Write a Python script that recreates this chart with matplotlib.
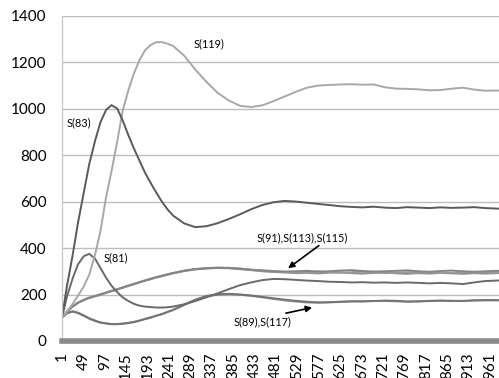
import numpy as np
import matplotlib
matplotlib.use("Agg")
import matplotlib.pyplot as plt

plt.rcParams['font.family'] = ['Lato', 'DejaVu Sans']

# sample positions (category index along the x axis), denser where curves bend
steps = [1, 12, 25, 37, 50, 62, 75, 87, 100, 112, 125, 137, 150, 162, 175, 187, 200,
         212, 225, 237, 250,
         275, 300, 325, 350, 375, 400, 425, 450, 475, 500, 525, 550, 575, 600, 625,
         650, 675, 700, 725, 750, 775, 800, 825, 850, 875, 900, 925, 950, 975, 1000]

s119 = [100, 125, 160, 195, 235, 285, 370, 470, 620, 730, 860, 990, 1080, 1150, 1210,
        1250, 1274, 1286, 1286, 1280, 1270,
        1228, 1168, 1115, 1068, 1035, 1012, 1007, 1014, 1032, 1052, 1072, 1090, 1099,
        1102, 1104, 1105, 1103, 1104, 1092, 1086, 1085, 1083, 1079, 1080, 1086, 1090,
        1082, 1077, 1078, 1076]
s83 = [100, 235, 370, 510, 640, 760, 860, 940, 995, 1015, 1000, 950, 885, 830, 775,
       725, 680, 640, 600, 568, 540,
       506, 490, 494, 507, 525, 545, 567, 585, 597, 603, 600, 595, 590, 585, 580, 577,
       575, 578, 574, 572, 576, 574, 572, 575, 573, 574, 576, 572, 570, 568]
s81 = [100, 190, 270, 330, 365, 375, 355, 315, 272, 238, 210, 188, 172, 160, 152, 148,
       146, 144, 144, 145, 148,
       158, 172, 188, 205, 223, 240, 252, 262, 267, 266, 263, 260, 258, 255, 254, 252,
       253, 251, 252, 250, 252, 250, 248, 250, 248, 245, 252, 258, 260, 262]
s91 = [100, 125, 148, 164, 176, 185, 193, 200, 208, 215, 222, 230, 238, 245, 253, 260,
       267, 274, 280, 286, 292,
       302, 309, 313, 315, 314, 311, 307, 304, 301, 299, 300, 302, 298, 300, 303, 305,
       301, 299, 300, 302, 304, 300, 298, 301, 303, 300, 298, 300, 302, 301]
s113 = [100, 127, 150, 166, 178, 187, 194, 201, 209, 216, 223, 231, 239, 246, 254, 261,
        268, 275, 281, 287, 293,
        303, 310, 314, 316, 315, 312, 306, 302, 299, 296, 295, 297, 300, 296, 293, 296,
        298, 295, 292, 294, 296, 295, 297, 294, 293, 296, 297, 295, 296, 297]
s115 = [100, 126, 149, 165, 177, 186, 192, 199, 207, 214, 221, 229, 237, 244, 252, 259,
        266, 273, 279, 285, 291,
        301, 308, 312, 314, 313, 309, 305, 300, 297, 295, 292, 293, 291, 294, 296, 292,
        290, 293, 296, 291, 289, 292, 290, 293, 291, 289, 292, 290, 292, 293]
s89 = [100, 120, 128, 122, 110, 98, 88, 80, 76, 73, 73, 75, 78, 82, 88, 95, 102, 109,
       116, 125, 134,
       156, 178, 194, 201, 203, 200, 196, 190, 184, 178, 173, 169, 166, 167, 169, 171,
       170, 172, 174, 173, 170, 170, 172, 174, 173, 172, 175, 176, 175, 175]
s117 = [100, 119, 126, 120, 108, 96, 86, 79, 75, 72, 72, 74, 77, 81, 87, 94, 100, 108,
        115, 124, 133,
        155, 176, 192, 199, 201, 199, 194, 188, 181, 175, 170, 166, 165, 166, 168, 170,
        171, 172, 172, 171, 169, 171, 173, 173, 172, 173, 174, 175, 176, 174]

xtick_labels = [str(v) for v in range(1, 962, 48)]
yticks = [0, 200, 400, 600, 800, 1000, 1200, 1400]

fig = plt.figure(figsize=(4.99, 3.78), dpi=100)
ax = fig.add_axes([0.1242, 0.0979, 0.875, 0.8606])

series = [
    (s115, "#8f8f8f"),
    (s113, "#9a9a9a"),
    (s91, "#858585"),
    (s117, "#8a8a8a"),
    (s89, "#747474"),
    (s81, "#6a6a6a"),
    (s119, "#a8a8a8"),
    (s83, "#5a5a5a"),
]
for vals, col in series:
    ax.plot(steps, vals, color=col, lw=1.4, solid_joinstyle="round")

ax.set_xlim(1, 980)
ax.set_ylim(0, 1400)
ax.set_yticks(yticks)
ax.set_xticks(range(1, 962, 48))
ax.set_xticklabels(xtick_labels, rotation=90)
ax.tick_params(axis="both", length=0, labelsize=11, colors="black")
ax.tick_params(axis="y", pad=11)
ax.tick_params(axis="x", pad=8)
ax.grid(axis="y", color="#bdbdbd", lw=1.0)
ax.set_axisbelow(True)

for side in ["top", "right"]:
    ax.spines[side].set_visible(False)
ax.spines["left"].set_color("#c4c4c4")
ax.spines["left"].set_linewidth(0.9)
ax.spines["bottom"].set_color("#8a8a8a")
ax.spines["bottom"].set_linewidth(4.0)

# labels for the curves
fs = 7.8
ax.text(295, 1277, "S(119)", fontsize=fs, va="center", ha="left")
ax.text(12, 940, "S(83)", fontsize=fs, va="center", ha="left")
ax.text(95, 360, "S(81)", fontsize=fs, va="center", ha="left")
ax.annotate("S(91),S(113),S(115)", xy=(508, 313), xytext=(438, 446),
            fontsize=fs, va="center", ha="left",
            arrowprops=dict(arrowstyle="-|>", color="black", lw=1.2,
                            shrinkA=0, shrinkB=0, mutation_scale=9,
                            relpos=(0.72, 0.0)))
ax.annotate("S(89),S(117)", xy=(562, 144), xytext=(385, 84),
            fontsize=fs, va="center", ha="left",
            arrowprops=dict(arrowstyle="-|>", color="black", lw=1.2,
                            shrinkA=0, shrinkB=0, mutation_scale=9,
                            relpos=(0.6, 0.9)))

fig.savefig("out.png", dpi=100)
